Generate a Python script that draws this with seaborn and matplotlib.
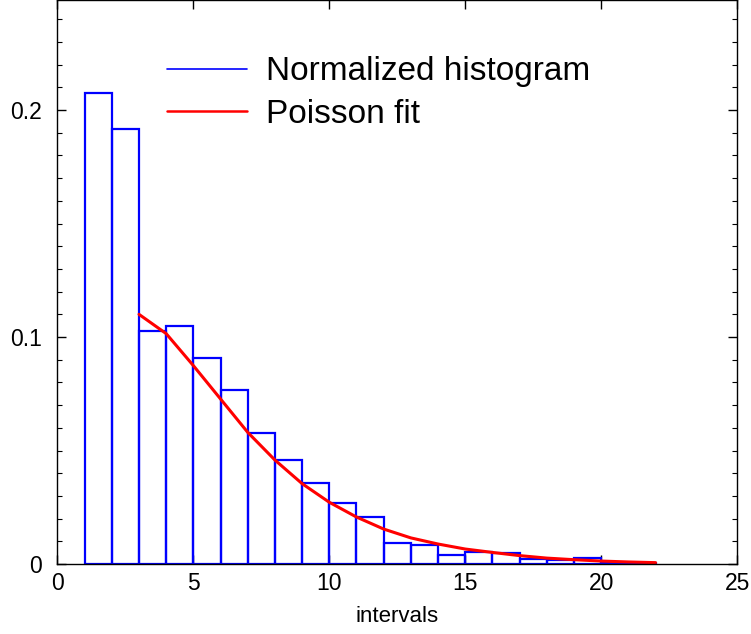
import numpy as np
import pandas as pd
import seaborn as sns
import matplotlib.pyplot as plt
from matplotlib.lines import Line2D
from matplotlib.ticker import MultipleLocator

# normalized histogram, bins of width 1 starting at 1
bin_left = [1, 2, 3, 4, 5, 6, 7, 8, 9, 10, 11, 12, 13, 14, 15, 16, 17, 18, 19, 20, 21]
hist_vals = [0.2075, 0.1916, 0.1026, 0.1048, 0.0907, 0.0767, 0.0577, 0.0458, 0.0357,
             0.0269, 0.0207, 0.0094, 0.0084, 0.0038, 0.0054, 0.0050, 0.0021, 0.0018,
             0.0025, 0.0005, 0.0003]

# poisson fit
fit_x = [3, 4, 5, 6, 7, 8, 9, 10, 11, 12, 13, 14, 15, 16, 17, 18, 19, 20, 21, 22]
fit_y = [0.110, 0.1015, 0.0874, 0.0727, 0.058, 0.0458, 0.0354, 0.0272, 0.0207, 0.0154,
         0.0115, 0.0088, 0.0066, 0.0051, 0.0037, 0.0026, 0.0019, 0.0013, 0.0009, 0.0006]

sns.set_style("ticks", rc={"text.color": "black", "axes.edgecolor": "black",
                           "xtick.color": "black", "ytick.color": "black",
                           "axes.labelcolor": "black"})
plt.rcParams['font.family'] = ['Liberation Sans', 'DejaVu Sans']

df = pd.DataFrame({"x": np.array(bin_left) + 0.5, "w": hist_vals})
edges = list(range(1, 23))

fig = plt.figure(figsize=(7.51, 6.34), dpi=100)
ax = fig.add_axes([0.0765, 0.1104, 0.905, 0.8896])

sns.histplot(data=df, x="x", weights="w", bins=edges, fill=False,
             element="bars", color="blue", linewidth=1.6, ax=ax)
sns.lineplot(x=fit_x, y=fit_y, color="red", linewidth=2.2, ax=ax)

ax.set_xlim(0, 25)
ax.set_ylim(0, 0.2485)
ax.set_xticks([0, 5, 10, 15, 20, 25])
ax.set_yticks([0, 0.1, 0.2])
ax.set_yticklabels(["0", "0.1", "0.2"])
ax.yaxis.set_minor_locator(MultipleLocator(0.01))
ax.tick_params(which="both", direction="in", top=True, right=True, labelsize=16.5)
ax.tick_params(which="major", length=6.5, width=1)
ax.tick_params(which="minor", length=3.6, width=0.8)
ax.tick_params(axis="x", pad=5.5)
ax.tick_params(axis="y", pad=11)
for s in ax.spines.values():
    s.set_linewidth(1)
ax.set_xlabel("intervals", fontsize=16, labelpad=8)
ax.set_ylabel("")

handles = [Line2D([0], [0], color="blue", lw=1.2), Line2D([0], [0], color="red", lw=1.8)]
ax.legend(handles, ["Normalized histogram", "Poisson fit"], loc="upper left",
          bbox_to_anchor=(0.142, 0.924), frameon=False, fontsize=24,
          handlelength=2.4, handletextpad=0.55, labelspacing=0.35, borderaxespad=0)

fig.savefig("out.png", dpi=100)
